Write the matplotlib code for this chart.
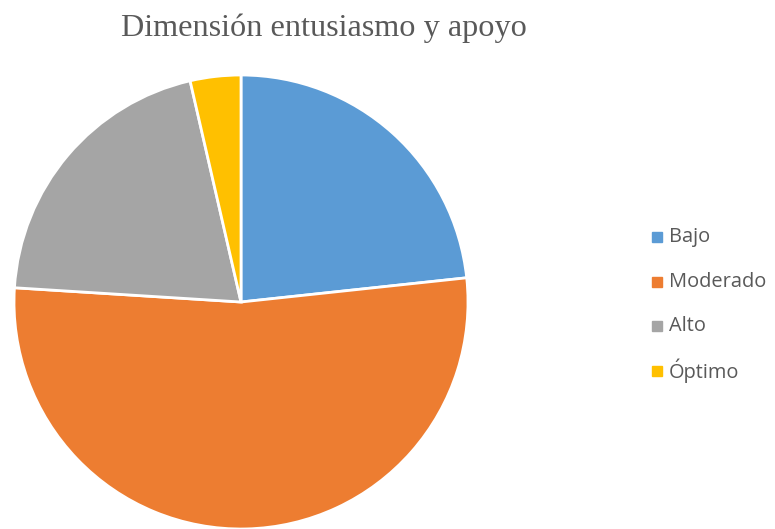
import matplotlib
matplotlib.use("Agg")
import matplotlib.pyplot as plt
from matplotlib.lines import Line2D

categories = ["Bajo", "Moderado", "Alto", "Óptimo"]
percentages = [23.3, 52.7, 20.4, 3.6]
colors = ["#5B9BD5", "#ED7D31", "#A5A5A5", "#FFC000"]
title = "Dimensión entusiasmo y apoyo"

W, H = 775, 529
fig = plt.figure(figsize=(W / 100, H / 100), dpi=100)

# Pie axes: centre (241, 302) px, radius 227 px
cx, cy, r = 241, 302, 227
ax = fig.add_axes([(cx - r) / W, (H - cy - r) / H, 2 * r / W, 2 * r / H])
ax.pie(percentages, colors=colors, startangle=90, counterclock=False,
       radius=1.0, wedgeprops=dict(edgecolor="white", linewidth=2.0))
ax.set_xlim(-1, 1)
ax.set_ylim(-1, 1)
ax.set_aspect("equal")
ax.axis("off")

fig.text(323.5 / W, 1 - 28 / H, title, ha="center", va="center",
         family="Liberation Serif", fontsize=23.2, color="#595959")

# Legend on the right
y0, step = 237, 44.7
for i, (name, col) in enumerate(zip(categories, colors)):
    y = 1 - (y0 + i * step) / H
    fig.add_artist(Line2D([657 / W], [y], marker="s", markersize=6.8,
                          color=col, linestyle="none",
                          transform=fig.transFigure))
    fig.text(669 / W, y, name, ha="left", va="center",
             family="Open Sans", fontsize=14.4, color="#595959")

fig.savefig("out.png", dpi=100, facecolor="white")
